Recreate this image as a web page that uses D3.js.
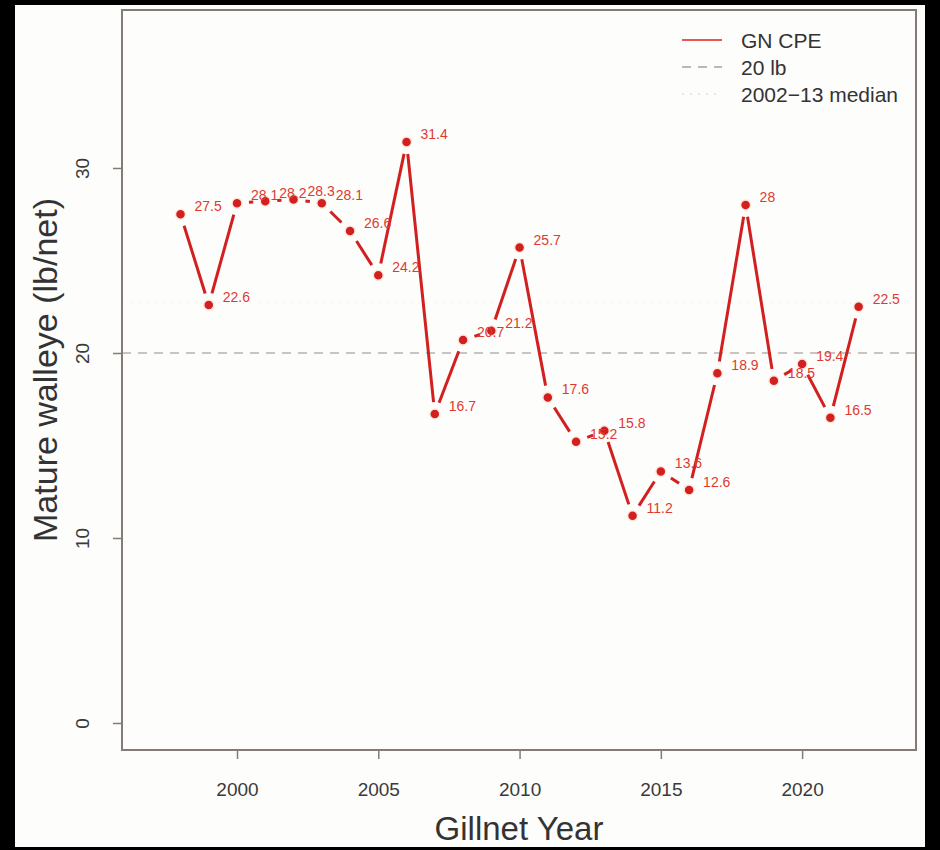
<!DOCTYPE html>
<html>
<head>
<meta charset="utf-8">
<script src="https://cdn.jsdelivr.net/npm/d3@7"></script>
<style>
body { margin: 0; background: #000; }
svg { display: block; font-family: "Liberation Sans", Arial, sans-serif; }
</style>
</head>
<body>
<div id="chart"></div>
<script>
const years = [1998, 1999, 2000, 2001, 2002, 2003, 2004, 2005, 2006, 2007, 2008, 2009, 2010,
	2011, 2012, 2013, 2014, 2015, 2016, 2017, 2018, 2019, 2020, 2021, 2022]
const cpe = [27.5, 22.6, 28.1, 28.2, 28.3, 28.1, 26.6, 24.2, 31.4, 16.7, 20.7, 21.2, 25.7,
	17.6, 15.2, 15.8, 11.2, 13.6, 12.6, 18.9, 28, 18.5, 19.4, 16.5, 22.5]
const xTicks = [2000, 2005, 2010, 2015, 2020]
const yTicks = [0, 10, 20, 30]
const refLine = 20
const legendItems = ["GN CPE", "20 lb", "2002\u221213 median"]

// median of 2002-13
const medianVal = d3.median(years.map((y, i) => ({y, v: cpe[i]})).filter(d => d.y >= 2002 && d.y <= 2013), d => d.v)

const data = years.map((y, i) => ({year: y, value: cpe[i]}))

const width = 940, height = 850
const red = "#d21f1f"
const plot = {left: 122, right: 916, top: 10, bottom: 750}

const svg = d3.select("#chart").append("svg")
	.attr("width", width)
	.attr("height", height)

// frame
svg.append("rect").attr("x", 15).attr("y", 5).attr("width", 910).attr("height", 842).attr("fill", "#fdfdfc")

let x = d3.scaleLinear().domain([1995.93, 2024.03]).range([plot.left, plot.right])
let y = d3.scaleLinear().domain([-1.46, 38.54]).range([plot.bottom, plot.top])

// reference lines
svg.append("line")
	.attr("x1", plot.left).attr("x2", plot.right)
	.attr("y1", y(refLine)).attr("y2", y(refLine))
	.attr("stroke", "#c9c4c0").attr("stroke-width", 2).attr("stroke-dasharray", "9,7")

svg.append("line")
	.attr("x1", plot.left).attr("x2", plot.right)
	.attr("y1", y(medianVal)).attr("y2", y(medianVal))
	.attr("stroke", "#f8f7f6").attr("stroke-width", 2).attr("stroke-dasharray", "2,6")

// line segments with gaps around points (R type = "b")
const gap = 12
let segs = d3.pairs(data).map(([a, b]) => {
	let x1 = x(a.year), y1 = y(a.value), x2 = x(b.year), y2 = y(b.value)
	let len = Math.hypot(x2 - x1, y2 - y1)
	let ux = (x2 - x1) / len, uy = (y2 - y1) / len
	return {x1: x1 + ux * gap, y1: y1 + uy * gap, x2: x2 - ux * gap, y2: y2 - uy * gap, ok: len > 2 * gap}
}).filter(d => d.ok)

svg.selectAll("line.seg")
	.data(segs)
	.enter()
	.append("line")
		.attr("class", "seg")
		.attr("x1", d => d.x1).attr("y1", d => d.y1)
		.attr("x2", d => d.x2).attr("y2", d => d.y2)
		.attr("stroke", red).attr("stroke-width", 3)

svg.selectAll("circle.pt")
	.data(data)
	.enter()
	.append("circle")
		.attr("class", "pt")
		.attr("cx", d => x(d.year))
		.attr("cy", d => y(d.value))
		.attr("r", 5)
		.attr("fill", red)
		.attr("stroke", "#fde9dc")
		.attr("stroke-width", 1.5)

svg.selectAll("text.lab")
	.data(data)
	.enter()
	.append("text")
		.attr("class", "lab")
		.attr("x", d => x(d.year) + 14)
		.attr("y", d => y(d.value) - 3)
		.attr("fill", "#e03a30")
		.attr("font-size", 14)
		.text(d => d.value)

// box
svg.append("rect")
	.attr("x", plot.left).attr("y", plot.top)
	.attr("width", plot.right - plot.left).attr("height", plot.bottom - plot.top)
	.attr("fill", "none").attr("stroke", "#857b76").attr("stroke-width", 2)

// axes
let xAxis = svg.append("g")
	.attr("transform", `translate(0,${plot.bottom})`)
	.call(d3.axisBottom(x).tickValues(xTicks).tickFormat(d3.format("d")).tickSizeOuter(0).tickSizeInner(9).tickPadding(24))
xAxis.select(".domain").remove()
xAxis.selectAll("line").attr("stroke", "#857b76").attr("stroke-width", 1.5)
xAxis.selectAll("text").attr("font-size", 19).attr("fill", "#3a3a3a").attr("font-family", "Liberation Sans, Arial, sans-serif")

let yAxis = svg.append("g")
	.attr("transform", `translate(${plot.left},0)`)
	.call(d3.axisLeft(y).tickValues(yTicks).tickSizeOuter(0).tickSizeInner(9))
yAxis.select(".domain").remove()
yAxis.selectAll("line").attr("stroke", "#857b76").attr("stroke-width", 1.5)
yAxis.selectAll("text")
	.attr("font-size", 19).attr("fill", "#3a3a3a").attr("font-family", "Liberation Sans, Arial, sans-serif")
	.attr("x", null).attr("dy", null)
	.attr("text-anchor", "middle")
	.attr("transform", "translate(-40,0) rotate(-90)")
	.attr("y", 7)

// titles
svg.append("text")
	.attr("x", (plot.left + plot.right) / 2)
	.attr("y", 840)
	.attr("text-anchor", "middle")
	.attr("font-size", 33)
	.attr("fill", "#333")
	.text("Gillnet Year")

svg.append("text")
	.attr("transform", `translate(57,${(plot.top + plot.bottom) / 2 - 10}) rotate(-90)`)
	.attr("text-anchor", "middle")
	.attr("font-size", 34)
	.attr("fill", "#333")
	.text("Mature walleye (lb/net)")

// legend
let legend = svg.append("g").attr("transform", "translate(682,40)")
let lg = legend.selectAll("g")
	.data(legendItems)
	.enter()
	.append("g")
		.attr("transform", (d, i) => `translate(0,${i * 27})`)

lg.append("line")
	.attr("x1", 0).attr("x2", 40).attr("y1", 0).attr("y2", 0)
	.attr("stroke", (d, i) => [ "#e85a4f", "#bdb8b3", "#ebe8e5"][i])
	.attr("stroke-width", 2)
	.attr("stroke-dasharray", (d, i) => [null, "9,7", "2,6"][i])

lg.append("text")
	.attr("x", 59)
	.attr("y", 8)
	.attr("font-size", 21)
	.attr("fill", "#333")
	.text(d => d)
</script>
</body>
</html>
